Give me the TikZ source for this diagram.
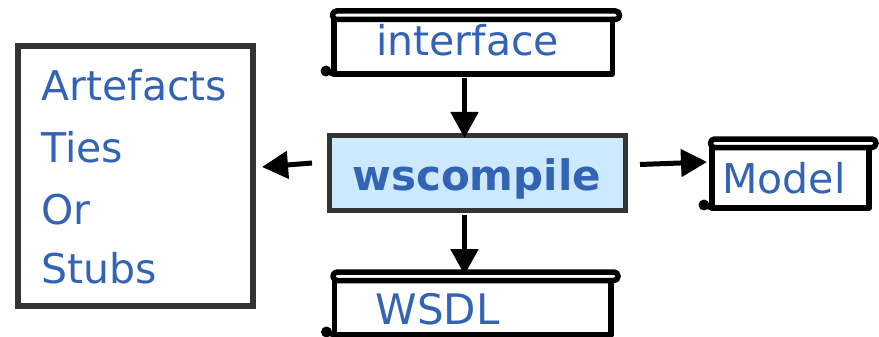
\documentclass[tikz,border=0pt]{standalone}
\usepackage{fontspec}
\setmainfont{DejaVu Sans}
\usetikzlibrary{arrows.meta}

\definecolor{txtblue}{RGB}{51,99,181}
\definecolor{boxgray}{RGB}{51,51,51}
\definecolor{wscfill}{RGB}{204,233,255}

\tikzset{
  scrollline/.style={line width=5.5pt, black, line cap=round, line join=round},
  scrollbody/.style={rectangle, inner sep=0pt, outer sep=0pt},
  lbl/.style={inner sep=0pt, outer sep=0pt, text=txtblue, font=\fontsize{41pt}{49pt}\selectfont},
  arr/.style={line width=5pt, black, -{Triangle[length=26pt,width=27pt]}},
}

% scroll: rolled band on top, body below, curl at the lower left
\newcommand\paintscroll[1]{%
  \fill[white] (#1.north west) rectangle (#1.south east);
  \draw[scrollline, rounded corners=4pt]
    ([xshift=-1.5pt,yshift=8.5pt]#1.north west) rectangle ([xshift=7pt]#1.north east);
  \draw[scrollline] (#1.north west) -- (#1.south west) -- (#1.south east) -- (#1.north east);
  \draw[scrollline] ([xshift=-8pt,yshift=3pt]#1.south west) -- (#1.south west);
  \fill ([xshift=-8pt,yshift=3pt]#1.south west) circle (5.5pt);
}

\begin{document}
\begin{tikzpicture}[x=1pt,y=-1pt]
  \useasboundingbox (0,0) rectangle (879,337);
  \clip (0,0) rectangle (879,337);
  \fill[white] (0,0) rectangle (879,337);

  % scroll bodies
  \node[scrollbody, minimum width=278.5pt, minimum height=54.5pt] (iface) at (473.25,46.75) {};
  \node[scrollbody, minimum width=157pt,   minimum height=60.5pt] (model) at (790.5,177.75) {};
  \node[scrollbody, minimum width=276.5pt, minimum height=54.5pt] (wsdl)  at (472.75,307.75) {};
  \paintscroll{iface}
  \paintscroll{model}
  \paintscroll{wsdl}

  % compiler box
  \node[rectangle, draw=boxgray, fill=wscfill, line width=5pt, inner sep=0pt, outer sep=0pt,
        minimum width=296pt, minimum height=75pt] (wsc) at (477.5,173) {};

  % output box
  \node[rectangle, draw=boxgray, line width=5.5pt, inner sep=0pt, outer sep=0pt,
        minimum width=235pt, minimum height=260pt] (arts) at (135.5,176) {};

  % labels
  \node[lbl, anchor=base] (ifacetxt) at (467.5,56) {interface};
  \node[lbl, anchor=base] (modeltxt) at (784,193) {Model};
  \node[lbl, anchor=base, font=\fontsize{42pt}{50pt}\selectfont] (wsdltxt) at (437.5,324) {WSDL};
  \node[lbl, anchor=base, font=\fontsize{42pt}{50pt}\selectfont\bfseries] (wsctxt) at (476.7,190) {wscompile};
  \node[lbl, anchor=base west] (art1) at (41.5,101) {Artefacts};
  \node[lbl, anchor=base west] (art2) at (41.5,162) {Ties};
  \node[lbl, anchor=base west] (art3) at (41.5,224) {Or};
  \node[lbl, anchor=base west] (art4) at (41.5,283) {Stubs};

  % connectors
  \draw[arr] ([xshift=-8.75pt,yshift=-4pt]iface.south) -- ([xshift=-13pt,yshift=-2.5pt]wsc.north);
  \draw[arr] ([xshift=-13pt,yshift=-4.5pt]wsc.south) -- ([xshift=-8.25pt,yshift=5.5pt]wsdl.north);
  \draw[arr] ([xshift=-17.5pt,yshift=10pt]wsc.west) -- ([xshift=9pt,yshift=9pt]arts.east);
  \draw[arr] ([xshift=14.5pt,yshift=8.5pt]wsc.east) -- ([xshift=-5pt,yshift=15.75pt]model.west);
\end{tikzpicture}
\end{document}
